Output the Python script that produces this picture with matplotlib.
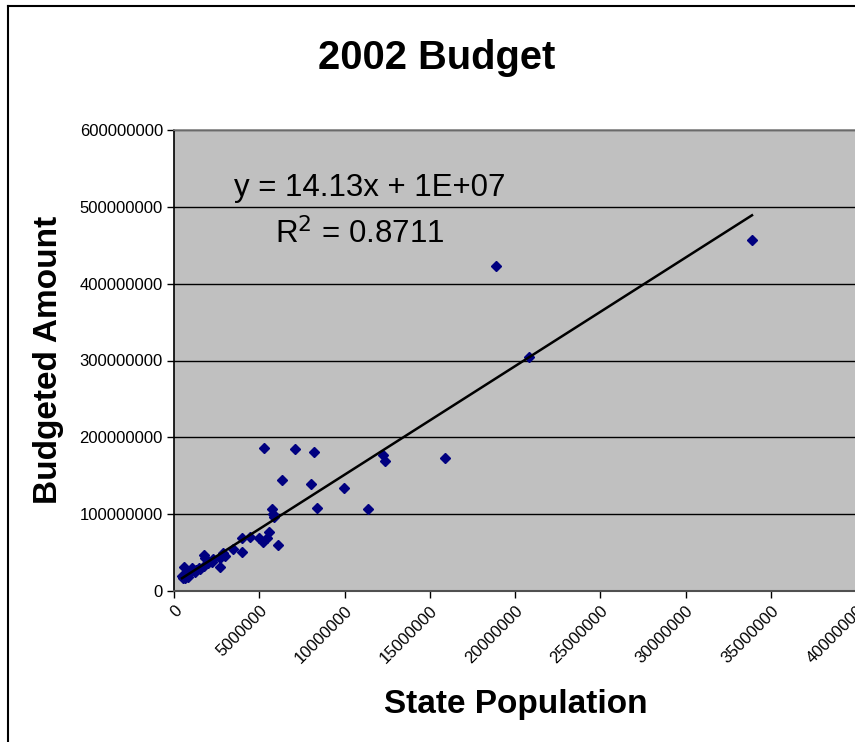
import matplotlib
matplotlib.use("Agg")
import matplotlib.pyplot as plt
from matplotlib.ticker import FuncFormatter
from matplotlib.lines import Line2D

plt.rcParams['font.family'] = ['Liberation Sans', 'DejaVu Sans']

title = "2002 Budget"
x_label = "State Population"
y_label = "Budgeted Amount"

# State population (millions) and budgeted amount (millions)
population_m = [33.9, 18.9, 20.8, 15.9, 12.25, 12.4, 11.35, 9.95, 8.2, 7.1,
                5.3, 6.35, 8.05, 8.4, 5.75, 5.8, 5.87, 5.57, 6.1, 5.45,
                5.2, 5.0, 4.45, 4.0, 4.0, 3.46, 2.9, 2.7, 2.7, 2.23,
                2.0, 1.76, 1.8, 1.74, 1.3, 1.23, 1.05, 0.76, 0.63, 0.47,
                0.57, 0.9, 1.5, 3.0, 0.8, 1.45, 2.3, 0.5]
budget_m = [457, 423, 305, 173, 177, 169, 107, 134, 181, 185,
            186, 144, 139, 108, 107, 100, 96, 77, 60, 69,
            64, 69, 70, 69, 51, 55, 49, 43, 31, 38,
            36, 47, 43, 32, 27, 25, 30, 21, 16.5, 19.5,
            31.7, 23, 29, 45, 18, 30, 41, 17]

population = [v * 1e6 for v in population_m]
budget = [v * 1e6 for v in budget_m]

trend_slope = 14.13
trend_intercept = 1e7
equation_text = "y = 14.13x + 1E+07"
r2_text = "R$^2$ = 0.8711"

x_ticks = list(range(0, 40000001, 5000000))
y_ticks = list(range(0, 600000001, 100000000))

W, H = 855, 742
fig = plt.figure(figsize=(W / 100, H / 100), dpi=100)
fig.patch.set_facecolor('white')

# outer chart border
fig.add_artist(Line2D([7.5 / W, 7.5 / W], [0, 1 - 6 / H], transform=fig.transFigure,
                      color='black', lw=1.5))
fig.add_artist(Line2D([7.5 / W, 1], [1 - 6 / H, 1 - 6 / H], transform=fig.transFigure,
                      color='black', lw=1.5))

left, right_px, top_px, bottom_px = 174, 856, 130, 591
ax = fig.add_axes([left / W, 1 - bottom_px / H, (right_px - left) / W, (bottom_px - top_px) / H])
ax.set_facecolor('#C0C0C0')
ax.set_xlim(0, 40000000)
ax.set_ylim(0, 600000000)

ax.set_xticks(x_ticks)
ax.set_yticks(y_ticks)
fmt = FuncFormatter(lambda v, p: f"{int(round(v))}")
ax.xaxis.set_major_formatter(fmt)
ax.yaxis.set_major_formatter(fmt)

ax.grid(axis='y', color='black', lw=1.0)
ax.set_axisbelow(True)
ax.spines['right'].set_visible(False)
ax.spines['top'].set_color('#808080')
ax.spines['top'].set_linewidth(1.2)
ax.spines['left'].set_color('black')
ax.spines['left'].set_linewidth(1.2)
ax.spines['bottom'].set_color('#505050')
ax.spines['bottom'].set_linewidth(1.5)

ax.tick_params(axis='both', direction='out', length=5, width=1, colors='black', labelsize=12)
ax.tick_params(axis='y', pad=3)
plt.setp(ax.get_xticklabels(), rotation=45, ha='right', va='top', rotation_mode='anchor')

# data points
ax.plot(population, budget, linestyle='none', marker='D', markersize=4.8,
        color='#000080', markeredgecolor='#000080', zorder=3)

# trendline
x0, x1 = min(population), max(population)
ax.plot([x0, x1], [trend_slope * x0 + trend_intercept, trend_slope * x1 + trend_intercept],
        color='black', lw=1.8, zorder=4)

ax.text(3500000, 525000000, equation_text, fontsize=22.5, ha='left', va='center')
ax.text(5900000, 465000000, r2_text, fontsize=22.5, ha='left', va='center')

fig.text(437 / W, 1 - 58 / H, title, fontsize=28.7, fontweight='bold', ha='center', va='center')
fig.text(516 / W, 1 - 705 / H, x_label, fontsize=24, fontweight='bold', ha='center', va='center')
fig.text(48 / W, 1 - 360 / H, y_label, fontsize=24, fontweight='bold', ha='center', va='center',
         rotation=90)

fig.savefig('out.png', dpi=100)
